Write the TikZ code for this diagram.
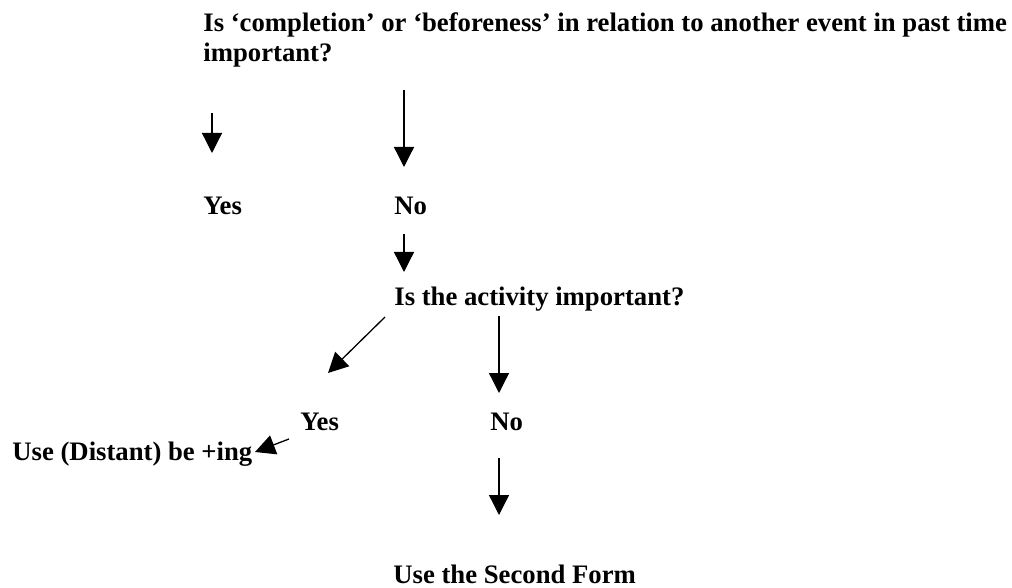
\documentclass[tikz,border=0pt]{standalone}
\usepackage{fontspec}
\setmainfont{Liberation Serif}
\usetikzlibrary{arrows.meta,positioning}

\begin{document}
\begin{tikzpicture}[x=0.5pt,y=-0.5pt,>={Triangle[length=10pt,width=10pt]},
  lbl/.style={anchor=base west,inner sep=0pt,font=\fontsize{13.35}{15}\selectfont\bfseries},
  arr/.style={->,line width=0.65pt}]
\useasboundingbox (0,0) rectangle (1012,588);
% questions and answers
\node[lbl] (q1) at (203,32) {Is ‘completion’ or ‘beforeness’ in relation to another event in past time};
\node[lbl] (q1b) at (203,62) {important?};
\node[lbl] (yes1) at (203,215) {Yes};
\node[lbl] (no1) at (394,215) {No};
\node[lbl] (q2) at (394,306) {Is the activity important?};
\node[lbl] (yes2) at (300,430) {Yes};
\node[lbl] (no2) at (490,430) {No};
\node[lbl] (ing) at (12,460) {Use (Distant) be +ing};
\node[lbl] (form) at (393,583) {Use the Second Form};
% arrow ends
\coordinate (y1s) at (212,113); \coordinate (y1t) at (212,153);
\coordinate (n1s) at (404,90);  \coordinate (n1t) at (404,167);
\coordinate (n1b) at (404,234); \coordinate (q2t) at (404,272);
\coordinate (y2s) at (385,317); \coordinate (y2t) at (328,373);
\coordinate (n2s) at (499,316); \coordinate (n2t) at (499,393);
\coordinate (ings) at (289,439); \coordinate (ingt) at (255,452);
\coordinate (fs) at (499,458);  \coordinate (ft) at (499,515);
\draw[arr] (y1s)--(y1t); \draw[arr] (n1s)--(n1t); \draw[arr] (n1b)--(q2t);
\draw[arr] (y2s)--(y2t); \draw[arr] (n2s)--(n2t);
\draw[arr] (ings)--(ingt); \draw[arr] (fs)--(ft);
\end{tikzpicture}
\end{document}
